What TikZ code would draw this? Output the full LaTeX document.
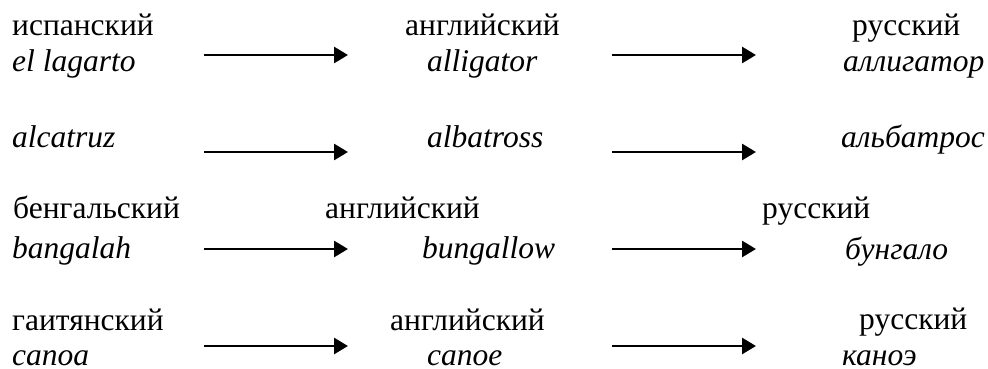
\documentclass[tikz,border=0pt]{standalone}
\usepackage{fontspec}
\setmainfont{Liberation Serif}[ItalicFont={Liberation Serif Italic}]
\usetikzlibrary{arrows.meta}
\begin{document}
\begin{tikzpicture}[x=1pt,y=-1pt,
  word/.style={anchor=base west,inner sep=0pt,font=\fontsize{31.5}{36}\selectfont},
  iword/.style={word,font=\fontsize{31.5}{36}\selectfont\itshape},
  conn/.style={line width=2.8pt,-{Triangle[length=14pt,width=16pt]}}]
\useasboundingbox (0,0) rectangle (988,369);
% row 1
\node[word]  (l1)  at (12,36)  {испанский};
\node[iword] (w1a) at (12,72)  {el lagarto};
\node[word]  (l1b) at (405,36) {английский};
\node[iword] (w1b) at (427,72) {alligator};
\node[word]  (l1c) at (852,36) {русский};
\node[iword] (w1c) at (843,72) {аллигатор};
% row 2
\node[iword] (w2a) at (12,147)  {alcatruz};
\node[iword] (w2b) at (427,147) {albatross};
\node[iword] (w2c) at (841,147) {альбатрос};
% row 3
\node[word]  (l3)  at (13,218)  {бенгальский};
\node[iword] (w3a) at (12,258)  {bangalah};
\node[word]  (l3b) at (325,218) {английский};
\node[iword] (w3b) at (422,258) {bungallow};
\node[word]  (l3c) at (762,218) {русский};
\node[iword] (w3c) at (845,259) {бунгало};
% row 4
\node[word]  (l4)  at (12,330)  {гаитянский};
\node[iword] (w4a) at (12,365)  {canoa};
\node[word]  (l4b) at (390,330) {английский};
\node[iword] (w4b) at (427,365) {canoe};
\node[word]  (l4c) at (859,329) {русский};
\node[iword] (w4c) at (842,365) {каноэ};
% arrow end points
\coordinate (a1s) at (204,55);  \coordinate (a1e) at (348,55);
\coordinate (b1s) at (612,55);  \coordinate (b1e) at (756,55);
\coordinate (a2s) at (204,152); \coordinate (a2e) at (348,152);
\coordinate (b2s) at (612,152); \coordinate (b2e) at (756,152);
\coordinate (a3s) at (204,249); \coordinate (a3e) at (348,249);
\coordinate (b3s) at (612,249); \coordinate (b3e) at (756,249);
\coordinate (a4s) at (204,346); \coordinate (a4e) at (348,346);
\coordinate (b4s) at (612,346); \coordinate (b4e) at (756,346);
\foreach \r in {1,2,3,4}{
  \draw[conn] (a\r s) -- (a\r e);
  \draw[conn] (b\r s) -- (b\r e);
}
\end{tikzpicture}
\end{document}
